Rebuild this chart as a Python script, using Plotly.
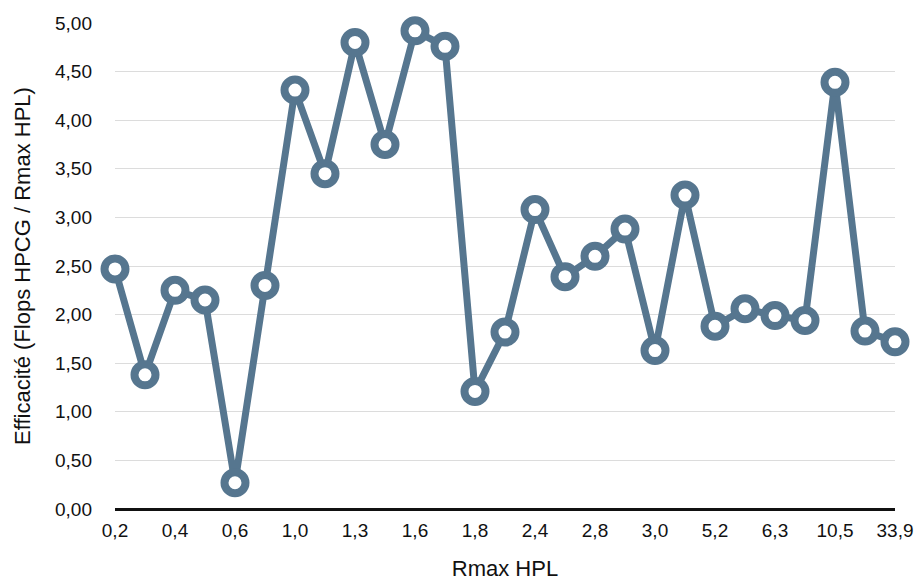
import plotly.graph_objects as go

rmax_labels = ["0,2", "0,3", "0,4", "0,5", "0,6", "0,8", "1,0", "1,1", "1,3", "1,5",
               "1,6", "1,7", "1,8", "2,1", "2,4", "2,6", "2,8", "2,9", "3,0", "3,2",
               "5,2", "5,6", "6,3", "8,1", "10,5", "17,2", "33,9"]
efficacite = [2.47, 1.38, 2.25, 2.15, 0.27, 2.30, 4.31, 3.45, 4.80, 3.75,
              4.92, 4.76, 1.21, 1.82, 3.08, 2.39, 2.60, 2.88, 1.63, 3.23,
              1.88, 2.06, 1.99, 1.94, 4.39, 1.83, 1.72]
y_ticks = [0, 0.5, 1, 1.5, 2, 2.5, 3, 3.5, 4, 4.5, 5]

idx = list(range(len(rmax_labels)))
color = "#56768f"
font_family = "Liberation Sans, Arial, sans-serif"

fig = go.Figure(go.Scatter(
    x=idx, y=efficacite, mode="lines+markers",
    line=dict(color=color, width=7),
    marker=dict(symbol="circle", size=21, color="white",
                line=dict(color=color, width=8)),
    cliponaxis=False, showlegend=False,
))

fig.update_layout(
    width=918, height=581,
    margin=dict(l=115, r=23, t=23, b=72),
    plot_bgcolor="white", paper_bgcolor="white",
    separators=", ",
    font=dict(family=font_family, size=19, color="#111"),
    xaxis=dict(
        range=[0, len(idx) - 1],
        tickvals=idx[::2], ticktext=rmax_labels[::2],
        showgrid=False, zeroline=False,
        showline=False, ticks="", ticklen=0,
        ticklabelstandoff=8, automargin=False,
        title=dict(text="Rmax HPL", font=dict(size=22), standoff=23),
        tickfont=dict(size=19),
    ),
    yaxis=dict(
        range=[0, 5], tickvals=y_ticks, tickformat=".2f",
        showgrid=True, gridcolor="#dcdcdc", gridwidth=1.3,
        zeroline=True, zerolinecolor="#111", zerolinewidth=2.5,
        showline=False, ticks="", ticklen=0,
        ticklabelstandoff=22, automargin=False,
        title=dict(text="Efficacité (Flops HPCG / Rmax HPL)", font=dict(size=22), standoff=18),
        tickfont=dict(size=19),
    ),
)

fig.write_html("out.html")
